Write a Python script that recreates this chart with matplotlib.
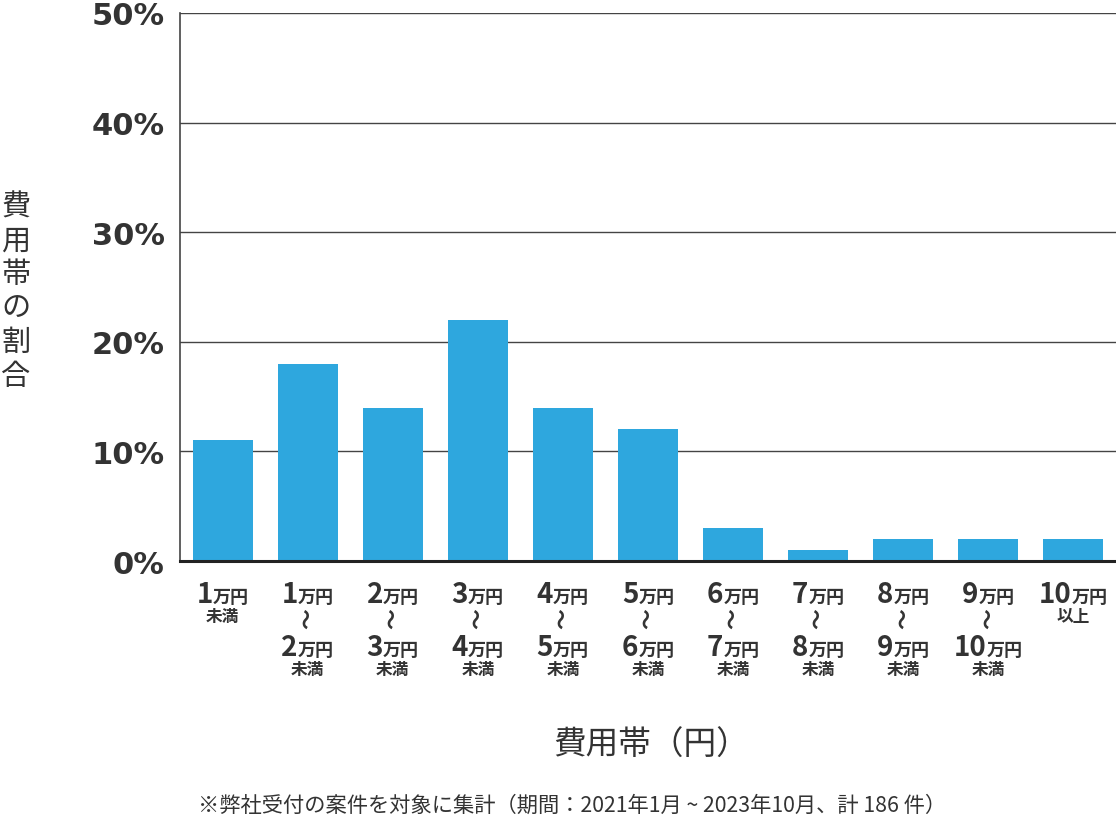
import matplotlib
matplotlib.use("Agg")
import matplotlib.pyplot as plt

plt.rcParams['font.family'] = ['Noto Sans CJK JP', 'DejaVu Sans']

# ---- data ----
range_from = ["1", "1", "2", "3", "4", "5", "6", "7", "8", "9", "10"]
range_to = [None, "2", "3", "4", "5", "6", "7", "8", "9", "10", None]
range_suffix = ["未満", "未満", "未満", "未満", "未満", "未満", "未満", "未満", "未満", "未満", "以上"]
shares = [11, 18, 14, 22, 14, 12, 3, 1, 2, 2, 2]
y_ticks = [0, 10, 20, 30, 40, 50]
y_tick_labels = ["0%", "10%", "20%", "30%", "40%", "50%"]
y_label = "費用帯の割合"
x_label = "費用帯（円）"
footnote = "※弊社受付の案件を対象に集計（期間：2021年1月 ~ 2023年10月、計 186 件）"

BAR = "#2ea7de"
TXT = "#333333"

W, H = 1116, 828
fig = plt.figure(figsize=(W / 100, H / 100), dpi=100)
ax = fig.add_axes([180 / W, (H - 562) / H, (W - 180) / W, (562 - 14) / H])

x = list(range(len(shares)))
ax.bar(x, shares, width=0.705, color=BAR, zorder=3)
ax.set_xlim(-0.5, len(shares) - 0.5)
ax.set_ylim(0, 50)
ax.set_yticks(y_ticks)
ax.set_yticklabels(y_tick_labels, fontsize=22, fontweight='bold', color=TXT,
                   family=['DejaVu Sans'])
ax.tick_params(axis='y', length=0, pad=11)
ax.set_xticks(x)
ax.set_xticklabels([""] * len(x))
ax.tick_params(axis='x', length=0)
ax.grid(axis='y', color='#444444', linewidth=1.0, zorder=1)
for s in ['top', 'right']:
    ax.spines[s].set_visible(False)
ax.spines['left'].set_color('#444444')
ax.spines['left'].set_linewidth(1.2)
ax.spines['bottom'].set_color('#222222')
ax.spines['bottom'].set_linewidth(2.2)
ax.spines['bottom'].set_zorder(4)

# custom tick labels
NUM_FS = 20
SMALL_FS = 12
pairs = []
def num_line(xi, num, dy):
    a = ax.annotate(num, xy=(xi, 0), xycoords=('data', 'axes fraction'),
                    xytext=(0, dy), textcoords='offset pixels', ha='right', va='baseline',
                    fontsize=NUM_FS, fontweight='bold', color=TXT)
    b = ax.annotate("万円", xy=(xi, 0), xycoords=('data', 'axes fraction'),
                    xytext=(0, dy), textcoords='offset pixels', ha='left', va='baseline',
                    fontsize=SMALL_FS + 1, fontweight='bold', color=TXT)
    pairs.append((a, b, dy))

def small(xi, s, dy, rot=0, fs=SMALL_FS):
    ax.annotate(s, xy=(xi, 0), xycoords=('data', 'axes fraction'),
                xytext=(0, dy), textcoords='offset pixels', ha='center', va='center',
                fontsize=fs, fontweight='bold', color=TXT, rotation=rot)

for i in x:
    num_line(i, range_from[i], -41)
    if range_to[i] is None:
        small(i, range_suffix[i], -55)
    else:
        small(i, "〜", -57, rot=90, fs=15)
        num_line(i, range_to[i], -94)
        small(i, range_suffix[i], -108)

fig.canvas.draw()
r = fig.canvas.get_renderer()
for a, b, dy in pairs:
    wa = a.get_window_extent(r).width
    wb = b.get_window_extent(r).width
    dx = (wa - wb) / 2
    a.xyann = (dx, dy)
    b.xyann = (dx, dy)

fig.text(16 / W, 1 - 292 / H, "\n".join(y_label), ha='center', va='center',
         fontsize=21, color=TXT, linespacing=1.17)
fig.text(651 / W, 1 - 746 / H, x_label, ha='center', va='center', fontsize=23.5, color=TXT)
fig.text(572 / W, 1 - 806 / H, footnote, ha='center', va='center', fontsize=15.3, color=TXT)

fig.savefig("out.png", dpi=100)
